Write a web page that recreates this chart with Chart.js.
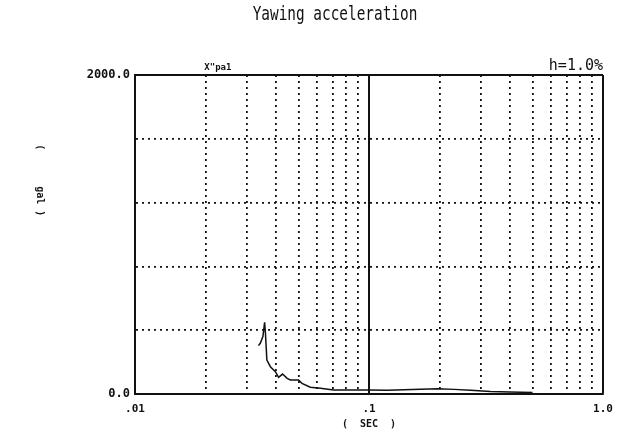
<!DOCTYPE html>
<html>
<head>
<meta charset="utf-8">
<script src="https://cdn.jsdelivr.net/npm/chart.js@4/dist/chart.umd.min.js"></script>
<style>
html,body{margin:0;padding:0;background:#fff;}
#wrap{width:636px;height:434px;}
</style>
</head>
<body>
<div id="wrap"><canvas id="c" width="636" height="434"></canvas></div>
<script>
// ---- data ----
const periods = [0.0337,0.0343,0.0352,0.0358,0.0361,0.0366,0.0379,0.0398,0.0411,0.0427,0.0447,0.0461,0.0500,0.0517,0.0561,0.0620,0.0706,0.0860,0.100,0.120,0.166,0.196,0.231,0.272,0.330,0.400,0.500];
const accel   = [303,318,360,449,380,213,171,140,104,125,98,88,88,67,42,36,25,25,25,23,29,33,29,23,15,12,10];
const xGridValues = [0.01,0.02,0.03,0.04,0.05,0.06,0.07,0.08,0.09,0.1,0.2,0.3,0.4,0.5,0.6,0.7,0.8,0.9,1];
const xTickLabels = {0.01:'.01', 0.1:'.1', 1:'1.0'};
const yTickLabels = {0:'0.0', 2000:'2000.0'};
const titleText = 'Yawing acceleration';
const dampingText = 'h=1.0%';
const yTitleText = '(      gal )';
const xTitleText = '(  SEC  )';
const seriesTag = 'X"pa1';

const mono = "'DejaVu Sans Mono', 'Liberation Mono', monospace";

const extraText = {
  id: 'extraText',
  afterDraw(chart) {
    const {ctx, chartArea: a} = chart;
    // main title, narrow monospace look
    ctx.save();
    ctx.fillStyle = '#111';
    ctx.font = '20px ' + mono;
    ctx.textAlign = 'center';
    ctx.textBaseline = 'middle';
    ctx.translate(335, 15);
    ctx.scale(0.72, 1);
    ctx.fillText(titleText, 0, 0);
    ctx.restore();
    // y axis title, rotated clockwise (reads top to bottom)
    ctx.save();
    ctx.fillStyle = '#111';
    ctx.font = 'bold 10px ' + mono;
    ctx.translate(40, a.top + (a.bottom - a.top) * 0.33);
    ctx.rotate(Math.PI / 2);
    ctx.textAlign = 'center';
    ctx.textBaseline = 'middle';
    ctx.fillText(yTitleText, 0, 0);
    ctx.restore();
    // series tag above the plot
    ctx.save();
    ctx.fillStyle = '#111';
    ctx.font = 'bold 9px ' + mono;
    ctx.textAlign = 'center';
    ctx.textBaseline = 'bottom';
    ctx.fillText(seriesTag, a.left + (a.right - a.left) * 0.177, a.top - 3);
    ctx.restore();
  }
};

const gridDash = (ctx, solidVal) => (ctx.tick && ctx.tick.value === solidVal) ? [] : [2, 4];

new Chart(document.getElementById('c'), {
  type: 'line',
  data: {
    datasets: [{
      data: periods.map((p, i) => ({x: p, y: accel[i]})),
      borderColor: '#111',
      borderWidth: 1.5,
      pointRadius: 0,
      tension: 0,
      fill: false
    }]
  },
  options: {
    responsive: false,
    animation: false,
    events: [],
    layout: {padding: {left: 0, right: 33, top: 0, bottom: 0}},
    plugins: {
      legend: {display: false},
      tooltip: {enabled: false},
      title: {display: false},
      subtitle: {
        display: true,
        text: dampingText,
        align: 'end',
        color: '#111',
        font: {family: mono, size: 15, weight: 'normal'},
        padding: {top: 57, bottom: 0}
      }
    },
    scales: {
      x: {
        type: 'logarithmic',
        min: 0.01,
        max: 1,
        afterBuildTicks: (s) => { s.ticks = xGridValues.map(v => ({value: v})); },
        afterFit: (s) => { s.height = 40; },
        ticks: {
          autoSkip: false,
          maxRotation: 0,
          padding: 9,
          color: '#111',
          font: {family: mono, size: 11, weight: 'bold'},
          callback: (v) => xTickLabels[v] !== undefined ? xTickLabels[v] : ''
        },
        grid: {
          color: '#111',
          lineWidth: (ctx) => (ctx.tick && (ctx.tick.value === 0.1 || ctx.tick.value === 1)) ? 2 : 1.8,
          drawTicks: false
        },
        border: {
          display: true,
          color: '#111',
          width: 2,
          dash: (ctx) => (ctx.tick && (ctx.tick.value === 0.1 || ctx.tick.value === 1)) ? [] : [2, 4]
        },
        title: {
          display: true,
          text: xTitleText,
          color: '#111',
          font: {family: mono, size: 10, weight: 'bold'},
          padding: {top: 0, bottom: 4}
        }
      },
      y: {
        min: 0,
        max: 2000,
        afterFit: (s) => { s.width = 135; },
        ticks: {
          stepSize: 400,
          padding: 5,
          color: '#111',
          font: {family: mono, size: 12, weight: 'bold'},
          callback: (v) => yTickLabels[v] !== undefined ? yTickLabels[v] : ''
        },
        grid: {
          color: '#111',
          lineWidth: (ctx) => (ctx.tick && ctx.tick.value === 2000) ? 2 : 1.8,
          drawTicks: false
        },
        border: {
          display: true,
          color: '#111',
          width: 2,
          dash: (ctx) => gridDash(ctx, 2000)
        }
      }
    }
  },
  plugins: [extraText]
});
</script>
</body>
</html>
